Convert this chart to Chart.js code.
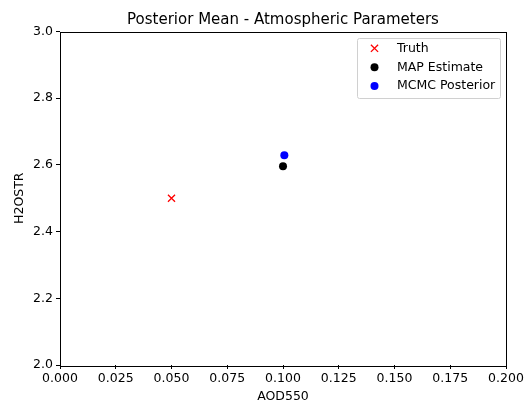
<!DOCTYPE html>
<html><head><meta charset="utf-8">
<script src="https://cdn.jsdelivr.net/npm/chart.js@4/dist/chart.umd.min.js"></script>
<style>html,body{margin:0;padding:0;background:#fff}#wrap{width:528px;height:406px}</style>
</head><body><div id="wrap"><canvas id="c" width="528" height="406"></canvas></div>
<script>
const seriesLabels = ['Truth', 'MAP Estimate', 'MCMC Posterior'];
const seriesColors = ['#ff0000', '#000000', '#0000ff'];
const aodValues = [0.05, 0.1, 0.1006];
const h2ostrValues = [2.5, 2.596, 2.629];
const xTicks = [0, 0.025, 0.05, 0.075, 0.1, 0.125, 0.15, 0.175, 0.2];
const yTicks = [2.0, 2.2, 2.4, 2.6, 2.8, 3.0];
const chartTitle = 'Posterior Mean - Atmospheric Parameters';
const xTitle = 'AOD550';
const yTitle = 'H2OSTR';

const FONT = 'DejaVu Sans';
const FS = 12.5;
const datasets = seriesLabels.map((lab, i) => ({
  label: lab,
  data: [{x: aodValues[i], y: h2ostrValues[i]}],
  pointStyle: i === 0 ? 'crossRot' : 'circle',
  radius: i === 0 ? 5 : 4,
  hoverRadius: i === 0 ? 5 : 4,
  backgroundColor: seriesColors[i],
  borderColor: seriesColors[i],
  borderWidth: i === 0 ? 1.3 : 0,
  showLine: false
}));

const decor = {
  id: 'decor',
  afterDraw(chart) {
    const ctx = chart.ctx, a = chart.chartArea;
    ctx.save();
    ctx.strokeStyle = '#000'; ctx.lineWidth = 1;
    ctx.strokeRect(Math.round(a.left) + 0.5, Math.round(a.top) + 0.5, Math.round(a.right - a.left), Math.round(a.bottom - a.top));
    // title
    ctx.fillStyle = '#000';
    ctx.font = '15px "' + FONT + '"';
    ctx.textAlign = 'center'; ctx.textBaseline = 'alphabetic';
    ctx.fillText(chartTitle, (a.left + a.right) / 2, 24);
    // axis titles
    ctx.font = FS + 'px "' + FONT + '"';
    ctx.textBaseline = 'middle';
    ctx.fillText(xTitle, (a.left + a.right) / 2, 397);
    ctx.save();
    ctx.translate(20, (a.top + a.bottom) / 2);
    ctx.rotate(-Math.PI / 2);
    ctx.fillText(yTitle, 0, 0);
    ctx.restore();
    // legend
    const bx = 357.5, by = 38.5, bw = 143, bh = 60;
    ctx.fillStyle = 'rgba(255,255,255,0.8)';
    ctx.strokeStyle = '#d0d0d0';
    ctx.beginPath();
    if (ctx.roundRect) ctx.roundRect(bx, by, bw, bh, 2); else ctx.rect(bx, by, bw, bh);
    ctx.fill(); ctx.stroke();
    const rows = [48.3, 67.3, 86];
    chart.data.datasets.forEach((ds, i) => {
      const mx = 374.5, my = rows[i];
      ctx.fillStyle = ds.backgroundColor; ctx.strokeStyle = ds.borderColor;
      if (ds.pointStyle === 'crossRot') {
        ctx.lineWidth = 1.3;
        ctx.beginPath();
        ctx.moveTo(mx - 3.6, my - 3.6); ctx.lineTo(mx + 3.6, my + 3.6);
        ctx.moveTo(mx - 3.6, my + 3.6); ctx.lineTo(mx + 3.6, my - 3.6);
        ctx.stroke();
      } else {
        ctx.beginPath(); ctx.arc(mx, my, 4, 0, Math.PI * 2); ctx.fill();
      }
      ctx.fillStyle = '#000';
      ctx.font = FS + 'px "' + FONT + '"';
      ctx.textAlign = 'left'; ctx.textBaseline = 'middle';
      ctx.fillText(ds.label, 397, my);
    });
    ctx.restore();
  }
};

new Chart(document.getElementById('c'), {
  type: 'scatter',
  data: { datasets },
  options: {
    responsive: false,
    animation: false,
    devicePixelRatio: 1,
    layout: { padding: { top: 31.5, right: 22, left: 0, bottom: 0 } },
    plugins: { legend: { display: false }, title: { display: false }, tooltip: { enabled: false } },
    scales: {
      x: {
        type: 'linear', min: 0, max: 0.2,
        afterBuildTicks(s) { s.ticks = xTicks.map(v => ({ value: v })); },
        afterFit(s) { s.height = 41; },
        ticks: { color: '#000', font: { family: FONT, size: FS }, padding: 2, maxRotation: 0, autoSkip: false,
                 callback: v => Number(v).toFixed(3) },
        grid: { drawOnChartArea: false, drawTicks: true, tickLength: 4, color: '#000' },
        border: { display: false }
      },
      y: {
        type: 'linear', min: 2, max: 3,
        afterBuildTicks(s) { s.ticks = yTicks.map(v => ({ value: v })); },
        afterFit(s) { s.width = 60; },
        ticks: { color: '#000', font: { family: FONT, size: FS }, padding: 3, autoSkip: false,
                 callback: v => Number(v).toFixed(1) },
        grid: { drawOnChartArea: false, drawTicks: true, tickLength: 4, color: '#000' },
        border: { display: false }
      }
    }
  },
  plugins: [decor]
});
</script></body></html>
